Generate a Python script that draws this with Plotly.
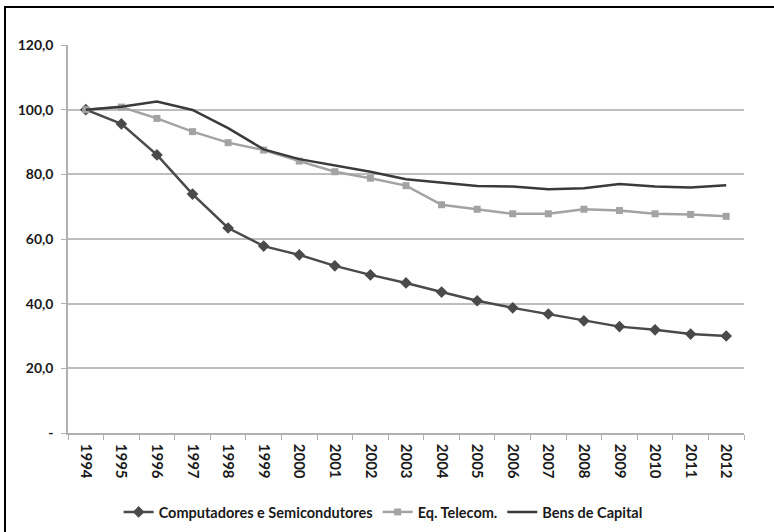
import plotly.graph_objects as go

years = [str(y) for y in range(1994, 2013)]
computadores = [100.0, 95.6, 86.0, 73.9, 63.4, 57.8, 55.1, 51.7, 48.9, 46.4,
                43.6, 40.9, 38.7, 36.8, 34.7, 32.9, 31.9, 30.6, 30.0]
telecom = [100.0, 100.8, 97.3, 93.2, 89.8, 87.5, 84.1, 80.8, 78.8, 76.5,
           70.6, 69.2, 67.8, 67.8, 69.2, 68.8, 67.8, 67.6, 67.0]
bens_capital = [100.0, 100.9, 102.5, 99.9, 94.3, 87.7, 84.7, 82.7, 80.8, 78.5,
                77.4, 76.4, 76.2, 75.4, 75.7, 77.0, 76.2, 75.9, 76.6]
y_ticks = [0, 20, 40, 60, 80, 100, 120]
y_labels = ["-", "20,0", "40,0", "60,0", "80,0", "100,0", "120,0"]

FONT = "Lato"

fig = go.Figure()
fig.add_trace(go.Scatter(
    x=years, y=computadores, name="Computadores e Semicondutores",
    mode="lines+markers",
    line=dict(color="#4a4a4a", width=2.5),
    marker=dict(symbol="diamond", size=9, color="#4a4a4a"),
))
fig.add_trace(go.Scatter(
    x=years, y=telecom, name="Eq. Telecom.",
    mode="lines+markers",
    line=dict(color="#a3a3a3", width=2.5),
    marker=dict(symbol="square", size=7, color="#a3a3a3"),
))
fig.add_trace(go.Scatter(
    x=years, y=bens_capital, name="Bens de Capital",
    mode="lines",
    line=dict(color="#3a3a3a", width=2.5),
))

W, H = 774, 532
fig.update_layout(
    width=W, height=H,
    margin=dict(l=68, r=30, t=45, b=99, autoexpand=False),
    paper_bgcolor="white", plot_bgcolor="white",
    font=dict(family=FONT, size=14, color="#1a1a1a", weight="bold"),
    showlegend=True,
    legend=dict(orientation="h", xref="container", yref="container",
                x=0.495, xanchor="center", y=(H - 512) / H, yanchor="middle",
                font=dict(family=FONT, size=14.5, color="#1a1a1a", weight="bold"),
                itemwidth=30, tracegroupgap=0),
    xaxis=dict(
        type="category", tickangle=90, automargin=False,
        showline=True, linecolor="#b0b0b0", linewidth=1.5,
        ticks="outside", tickson="boundaries", ticklen=5, tickcolor="#b0b0b0",
        showgrid=False, range=[-0.5, 18.5], ticklabelstandoff=6,
        tickfont=dict(family=FONT, size=15, color="#1a1a1a", weight="bold"),
    ),
    yaxis=dict(
        range=[0, 120], tickvals=y_ticks, ticktext=y_labels, automargin=False,
        showgrid=True, gridcolor="#bdbdbd", gridwidth=1.5,
        showline=True, linecolor="#b0b0b0", linewidth=1.5,
        ticks="outside", ticklen=5, tickcolor="#b0b0b0",
        ticklabelstandoff=5, zeroline=False,
        tickfont=dict(family=FONT, size=14, color="#1a1a1a", weight="bold"),
    ),
)

frame_js = (
    "document.body.style.margin='0';document.body.style.padding='0';"
    "document.body.style.overflow='hidden';"
    "var f=document.createElement('div');"
    "f.style.cssText='position:absolute;left:4px;top:6px;width:770px;height:526px;"
    "box-sizing:border-box;border-top:2px solid #000;border-left:2px solid #000;"
    "pointer-events:none;';"
    "document.body.appendChild(f);"
)

fig.write_html("out.html", config={"displayModeBar": False}, post_script=frame_js)
